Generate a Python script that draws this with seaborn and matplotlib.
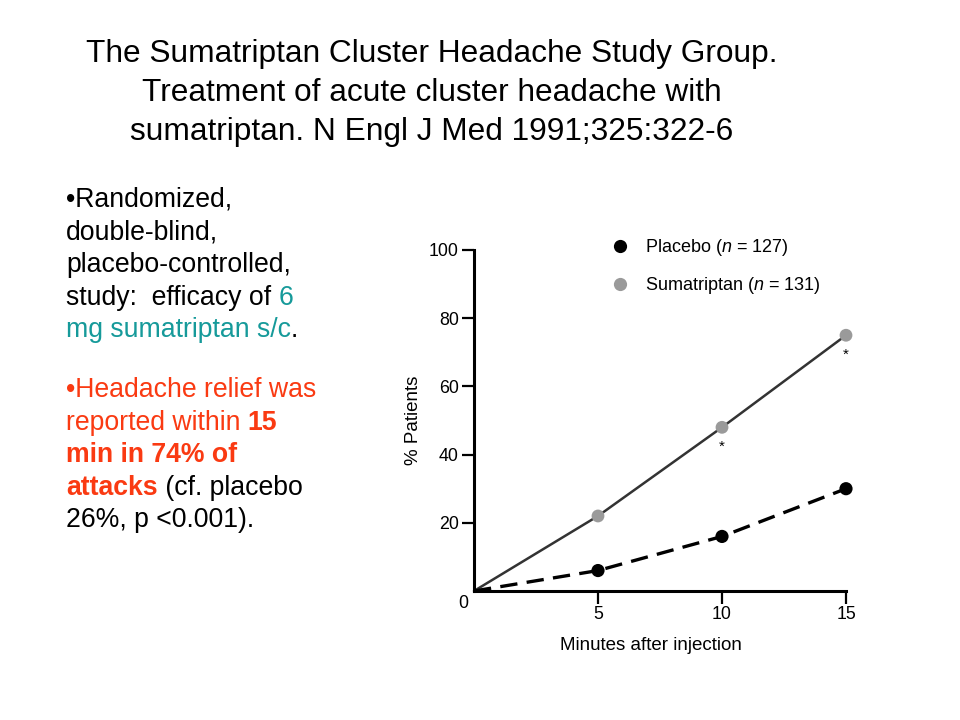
import matplotlib
matplotlib.use("Agg")
import matplotlib.pyplot as plt
import seaborn as sns
import pandas as pd
from matplotlib.lines import Line2D

# datos
minutos = [0, 5, 10, 15]
placebo = [0, 6, 16, 30]
sumatriptan = [0, 22, 48, 75]
significativo = [False, False, True, True]
yticks = [20, 40, 60, 80, 100]
xticks = [5, 10, 15]

etiqueta_placebo = "Placebo ($n$ = 127)"
etiqueta_suma = "Sumatriptan ($n$ = 131)"

titulo = [
    "The Sumatriptan Cluster Headache Study Group.",
    "Treatment of acute cluster headache with",
    "sumatriptan. N Engl J Med 1991;325:322-6",
]

NEGRO = "#000000"
TEAL = "#169a9a"
ROJO = "#fa3a12"

# cada linea del texto lateral: lista de (texto, color, negrita)
bloque_1 = [
    [("\u2022Randomized,", NEGRO, False)],
    [("double-blind,", NEGRO, False)],
    [("placebo-controlled,", NEGRO, False)],
    [("study:  efficacy of ", NEGRO, False), ("6", TEAL, False)],
    [("mg sumatriptan s/c", TEAL, False), (".", NEGRO, False)],
]
bloque_2 = [
    [("\u2022Headache relief was", ROJO, False)],
    [("reported within ", ROJO, False), ("15", ROJO, True)],
    [("min in 74% of", ROJO, True)],
    [("attacks", ROJO, True), (" (cf. placebo", NEGRO, False)],
    [("26%, p <0.001).", NEGRO, False)],
]

sns.set_style("ticks")
plt.rcParams['font.family'] = ['Liberation Sans', 'DejaVu Sans']
plt.rcParams['mathtext.fontset'] = 'custom'
plt.rcParams['mathtext.it'] = 'Liberation Sans:italic'
plt.rcParams['mathtext.rm'] = 'Liberation Sans'
plt.rcParams['text.color'] = 'black'
plt.rcParams['axes.labelcolor'] = 'black'
plt.rcParams['xtick.color'] = 'black'
plt.rcParams['ytick.color'] = 'black'

fig = plt.figure(figsize=(9.6, 7.2), dpi=100)

# -------------------------------------------------------------------------
# TITULO
# -------------------------------------------------------------------------
for i, linea in enumerate(titulo):
    fig.text(432 / 960, 1 - (62 + i * 39) / 720, linea, ha='center', va='baseline',
             fontsize=22.8, color='black')

# -------------------------------------------------------------------------
# TEXTO LATERAL CON COLORES
# -------------------------------------------------------------------------
renderer = fig.canvas.get_renderer()
tam_lat = 19.2

def ancho(txt, bold):
    t = fig.text(0, 0, txt, fontsize=tam_lat, fontweight='bold' if bold else 'normal')
    w = t.get_window_extent(renderer).width
    t.remove()
    return w

esp_normal = ancho("| |", False) - ancho("||", False)

def escribir_bloque(lineas, y_inicio, paso=32.6):
    for i, linea in enumerate(lineas):
        x = 66
        ybase = y_inicio + i * paso
        for txt, col, bold in linea:
            fig.text(x / 960, 1 - ybase / 720, txt, ha='left', va='baseline',
                     fontsize=tam_lat, color=col,
                     fontweight='bold' if bold else 'normal')
            n_esp = len(txt) - len(txt.rstrip())
            x += ancho(txt.rstrip(), bold) + n_esp * esp_normal

escribir_bloque(bloque_1, 207)
escribir_bloque(bloque_2, 397)

# -------------------------------------------------------------------------
# GRAFICO
# -------------------------------------------------------------------------
ax = fig.add_axes([474 / 960, 1 - 591 / 720, (846 - 474) / 960, (591 - 250) / 720])

df = pd.DataFrame({'min': minutos, 'placebo': placebo, 'suma': sumatriptan})

sns.lineplot(data=df, x='min', y='suma', ax=ax, color='#333333', linewidth=1.8,
             clip_on=False)
sns.lineplot(data=df, x='min', y='placebo', ax=ax, color='black', linewidth=2.4,
             clip_on=False)
ax.lines[-1].set_dashes([5.2, 2.8])

sns.scatterplot(data=df.iloc[1:], x='min', y='suma', ax=ax, color='#9a9a9a', s=85,
                edgecolor='none', clip_on=False, zorder=5)
sns.scatterplot(data=df.iloc[1:], x='min', y='placebo', ax=ax, color='black', s=90,
                edgecolor='none', clip_on=False, zorder=5)

for xm, ym, sig in zip(minutos, sumatriptan, significativo):
    if sig:
        ax.text(xm, ym - 5.8, "*", ha='center', va='center', fontsize=11, color='black')

ax.set_xlim(0, 15)
ax.set_ylim(0, 100)
ax.set_xticks(xticks)
ax.set_yticks(yticks)
ax.tick_params(axis='both', labelsize=12.8, width=1.6, length=9, pad=2, color='black')
ax.tick_params(axis='x', pad=2)
sns.despine(ax=ax)
for lado in ['left', 'bottom']:
    ax.spines[lado].set_linewidth(2.2)
    ax.spines[lado].set_color('black')

ax.annotate("0", xy=(0, 0), xytext=(-8, -9), textcoords='offset points',
            ha='center', va='center', fontsize=12.8)

ax.set_xlabel("Minutes after injection", fontsize=13.5)
ax.xaxis.set_label_coords((651 - 474) / 372, (591 - 637) / 341)
ax.set_ylabel("% Patients", fontsize=13.5)
ax.yaxis.set_label_coords((422 - 474) / 372, 0.5)

handles = [
    Line2D([], [], marker='o', linestyle='none', color='black', markersize=9.5,
           markeredgewidth=0),
    Line2D([], [], marker='o', linestyle='none', color='#9a9a9a', markersize=9.5,
           markeredgewidth=0),
]
ax.legend(handles, [etiqueta_placebo, etiqueta_suma], loc='upper left',
          bbox_to_anchor=(600 / 960, 1 - 230 / 720), bbox_transform=fig.transFigure,
          frameon=False, fontsize=13, handletextpad=0.7, labelspacing=0.95,
          borderaxespad=0, handlelength=1.4)

fig.savefig("out.png", dpi=100)
